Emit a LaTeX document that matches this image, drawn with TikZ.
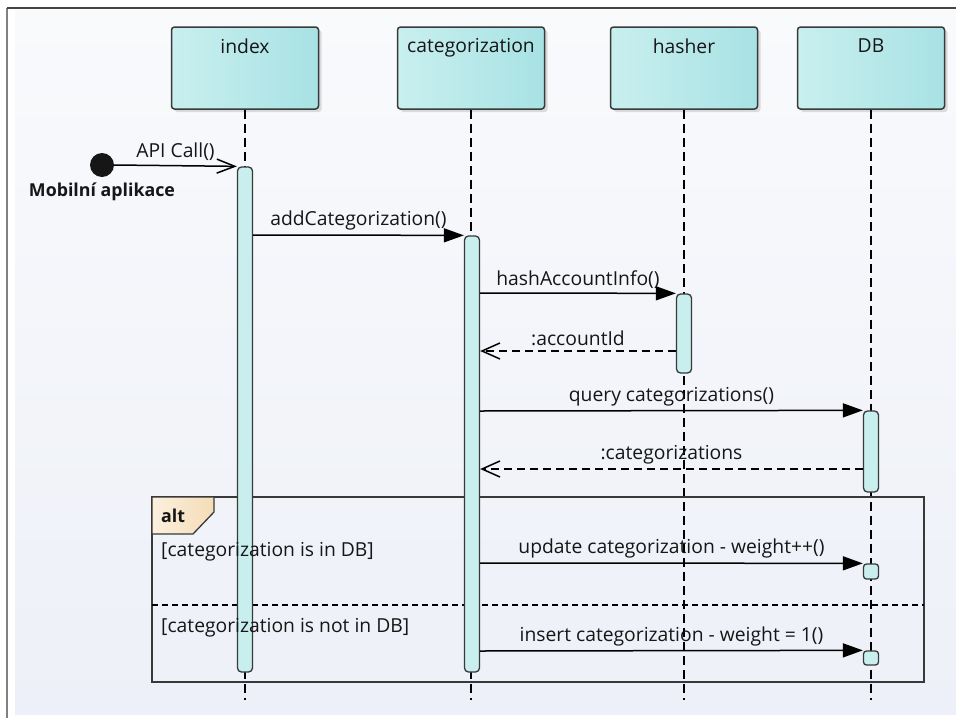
\documentclass[tikz,border=0pt]{standalone}
\usepackage{fontspec}
\setmainfont{Open Sans}
\usetikzlibrary{arrows.meta,shadows}

\definecolor{headleft}{HTML}{C9EFEF}
\definecolor{headright}{HTML}{A8E2E4}
\definecolor{actfill}{HTML}{C8EEEE}
\definecolor{tableft}{HTML}{FCF0DE}
\definecolor{tabright}{HTML}{F4DCB6}
\definecolor{bgtop}{HTML}{F9FAFC}
\definecolor{bgbottom}{HTML}{EDF0F8}
\definecolor{ink}{HTML}{161616}

\tikzset{
  every node/.style={font=\fontsize{19.3}{23}\selectfont, text=ink},
  boldtext/.style={font=\fontsize{17.8}{22}\selectfont\bfseries},
  head/.style={draw=ink!85, line width=1.5pt, rounded corners=3pt,
    left color=headleft, right color=headright,
    minimum width=147pt, minimum height=82pt, inner sep=0pt,
    drop shadow={shadow xshift=3pt, shadow yshift=-3pt, opacity=0.25}},
  activation/.style={draw=ink!85, line width=1.3pt, rounded corners=4pt,
    fill=actfill, minimum width=15pt, inner sep=0pt},
  lifeline/.style={line width=1.5pt, dash pattern=on 9pt off 5pt},
  call/.style={line width=1.5pt, -{Triangle[length=20pt, width=14pt]}},
  reply/.style={line width=1.5pt, dash pattern=on 8pt off 5pt,
    -{Straight Barb[length=18pt, width=16pt]}},
  msg/.style={above=4pt, inner sep=0pt}
}

\begin{document}
\begin{tikzpicture}[x=1pt, y=-1pt]
  \useasboundingbox (0,0) rectangle (956,718);
  % page background and frame
  \fill[white] (0,0) rectangle (956,718);
  \shade[top color=bgtop, bottom color=bgbottom] (15,10) rectangle (956,714);
  \draw[gray, line width=1.5pt] (7,8) -- (7,718);
  \draw[ink!80, line width=1.5pt] (7,8) -- (956,8);

  % lifeline heads
  \node[head, label={[anchor=north, yshift=-9pt]north:index}] (index) at (245,68) {};
  \node[head, label={[anchor=north, yshift=-9pt]north:categorization}] (categorization) at (471,68) {};
  \node[head, label={[anchor=north, yshift=-9pt]north:hasher}] (hasher) at (684,68) {};
  \node[head, label={[anchor=north, yshift=-9pt]north:DB}] (db) at (871,68) {};

  \foreach \n in {index,categorization,hasher,db}
    \draw[lifeline] (\n.south) -- (\n.south |- 0,700);

  % alt fragment
  \draw[line width=1.5pt, ink!85] (152,497) rectangle (924,682);
  \draw[line width=1.3pt, ink!85, left color=tableft, right color=tabright]
    (152,497) -- (214,497) -- (214,512) -- (193,534) -- (152,534) -- cycle;
  \node[boldtext, anchor=west, inner sep=0pt] (alt) at (161,516) {alt};
  \draw[line width=1.3pt, dash pattern=on 6pt off 4pt] (152,605) -- (924,605);

  % activations
  \node[activation, minimum height=505pt] (indexact) at (245,419.5) {};
  \node[activation, minimum height=436pt] (catact) at (472,454) {};
  \node[activation, minimum height=79pt] (hashact) at (684,333.5) {};
  \node[activation, minimum height=81pt] (dbact) at (871,451.5) {};
  \node[activation, minimum height=15pt, rounded corners=3pt] (dbupd) at (871,571.5) {};
  \node[activation, minimum height=14pt, rounded corners=3pt] (dbins) at (871,658) {};

  % actor
  \node[circle, fill=ink, minimum size=24pt, inner sep=0pt,
    label={[boldtext, yshift=-2pt]below:Mobilní aplikace}] (mobile) at (102,165) {};

  % messages
  \draw[line width=1.5pt, -{Straight Barb[length=18pt, width=14pt]}]
    (mobile.east) -- (indexact.north west) node[msg, midway] {API Call()};
  \draw[call] (indexact.east |- 0,235) -- (catact.north west)
    node[msg, midway] {addCategorization()};
  \draw[call] (catact.east |- 0,293) -- (hashact.north west)
    node[msg, midway] {hashAccountInfo()};
  \draw[reply] (hashact.west |- 0,351) -- (catact.east |- 0,351)
    node[msg, midway] {:accountId};
  \draw[call] (catact.east |- 0,411) -- (dbact.north west)
    node[msg, midway] {query categorizations()};
  \draw[reply] (dbact.west |- 0,469) -- (catact.east |- 0,469)
    node[msg, midway] {:categorizations};
  \draw[call] (catact.east |- 0,563) -- (dbupd.north west)
    node[msg, midway] {update categorization - weight++()};
  \draw[call] (catact.east |- 0,651) -- (dbins.north west)
    node[msg, midway] {insert categorization - weight = 1()};

  % guards
  \node[anchor=west, inner sep=0pt] (guardin) at (161,552) {[categorization is in DB]};
  \node[anchor=west, inner sep=0pt] (guardout) at (161,628) {[categorization is not in DB]};
\end{tikzpicture}
\end{document}
